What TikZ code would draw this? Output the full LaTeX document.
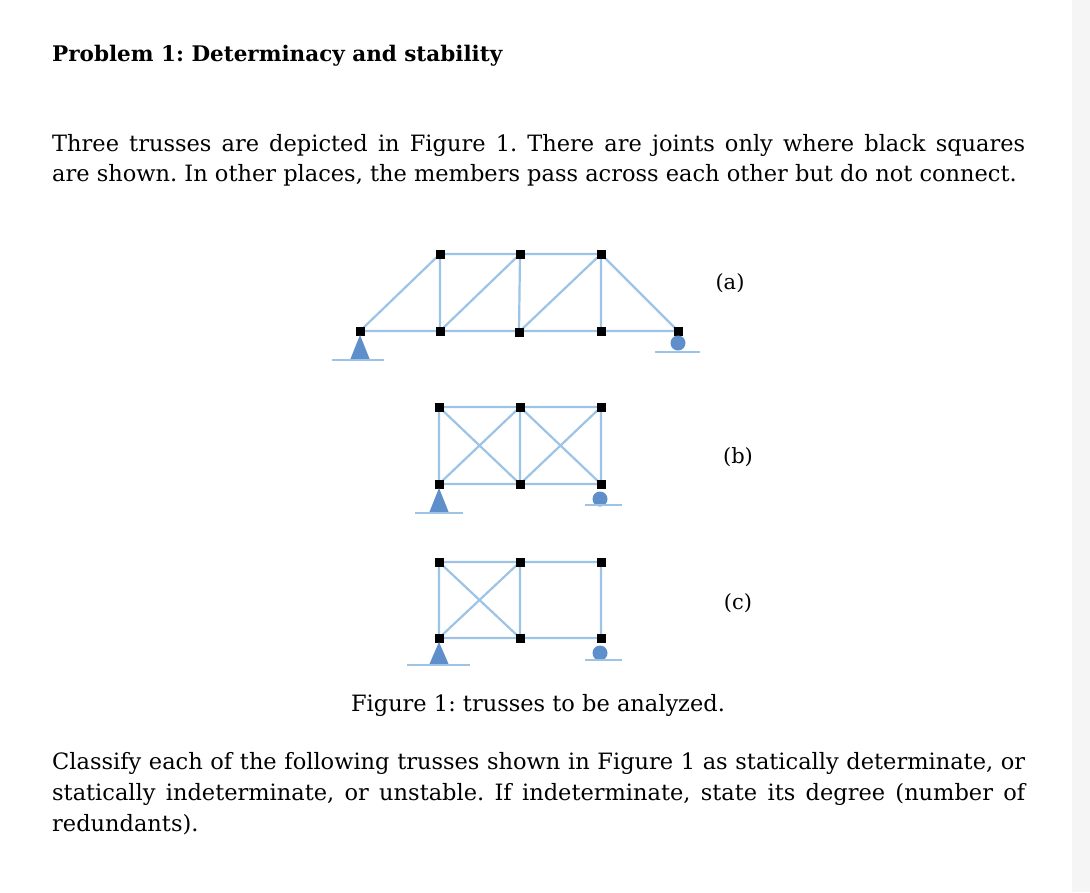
\documentclass[tikz,border=0pt]{standalone}
\usepackage{fontspec}
\setmainfont{DejaVu Serif}
\begin{document}
\frenchspacing
\begin{tikzpicture}[x=1pt,y=-1pt,
  mem/.style={draw=memb,line width=2.2pt},
  jt/.style={fill=black,minimum size=9pt,inner sep=0pt,outer sep=0pt},
  gnd/.style={draw=memb,line width=1.8pt},
  txt/.style={inner sep=0pt,anchor=north west,align=left}]
\definecolor{memb}{HTML}{9DC3E6}
\definecolor{supc}{HTML}{5F8FCB}
\useasboundingbox (0,0) rectangle (1090,892);
\fill[white] (0,0) rectangle (1090,892);
\fill[black!4] (1072,0) rectangle (1090,892);
\node[txt,anchor=base west,font=\fontsize{21.5}{24}\selectfont\bfseries] (title) at (52,61) {Problem 1: Determinacy and stability};
\node[txt] (p1) at (52,134) {\parbox{973pt}{\fontsize{22.5}{30}\selectfont Three trusses are depicted in Figure 1. There are joints only where black squares\linebreak are shown. In other places, the members pass across each other but do not connect.}};
\node[txt] (p2) at (52,752) {\parbox{973pt}{\fontsize{22.5}{31}\selectfont Classify each of the following trusses shown in Figure 1 as statically determinate, or\linebreak statically indeterminate, or unstable. If indeterminate, state its degree (number of\linebreak redundants).}};
\node[anchor=base,font=\fontsize{22.5}{24}\selectfont] (cap) at (538,711) {Figure 1: trusses to be analyzed.};
% truss a
\foreach \n/\x/\y in {a1/360/331,a2/440/331,a3/519/332,a4/601/331,a5/678/331,t1/440/254,t2/520/254,t3/601/254}
  \coordinate (\n) at (\x,\y);
\draw[mem] (a1)--(a5) (t1)--(t3) (a1)--(t1) (t1)--(a2) (a2)--(t2) (t2)--(a3) (a3)--(t3) (t3)--(a4) (t3)--(a5);
\foreach \n in {a1,a2,a3,a4,a5,t1,t2,t3} \node[jt] (j\n) at (\n) {};
\fill[supc] (360,335)--(350,360)--(370,360)--cycle;
\draw[gnd] (332,360)--(384,360);
\fill[supc] (678,343) circle (7.5);
\draw[gnd] (655,352)--(700,352);
\node[font=\fontsize{21}{22}\selectfont] (la) at (730,283) {(a)};
% truss b
\foreach \n/\x/\y in {b1/439/484,b2/520/484,b3/601/484,u1/439/407,u2/520/407,u3/601/407}
  \coordinate (\n) at (\x,\y);
\draw[mem] (b1)--(b3) (u1)--(u3) (b1)--(u1) (b2)--(u2) (b3)--(u3) (u1)--(b2) (b1)--(u2) (u2)--(b3) (b2)--(u3);
\foreach \n in {b1,b2,b3,u1,u2,u3} \node[jt] (j\n) at (\n) {};
\fill[supc] (439,488)--(429,513)--(449,513)--cycle;
\draw[gnd] (415,513)--(463,513);
\fill[supc] (600,499) circle (7.5);
\draw[gnd] (585,505)--(622,505);
\node[font=\fontsize{21}{22}\selectfont] (lb) at (738,457) {(b)};
% truss c
\foreach \n/\x/\y in {c1/439/638,c2/520/638,c3/601/638,v1/439/562,v2/520/562,v3/601/562}
  \coordinate (\n) at (\x,\y);
\draw[mem] (c1)--(c3) (v1)--(v3) (c1)--(v1) (c2)--(v2) (c3)--(v3) (v1)--(c2) (c1)--(v2);
\foreach \n in {c1,c2,c3,v1,v2,v3} \node[jt] (j\n) at (\n) {};
\fill[supc] (439,642)--(429,665)--(449,665)--cycle;
\draw[gnd] (407,665)--(470,665);
\fill[supc] (600,653) circle (7.5);
\draw[gnd] (585,660)--(622,660);
\node[font=\fontsize{21}{22}\selectfont] (lc) at (738,603) {(c)};
\end{tikzpicture}
\end{document}
